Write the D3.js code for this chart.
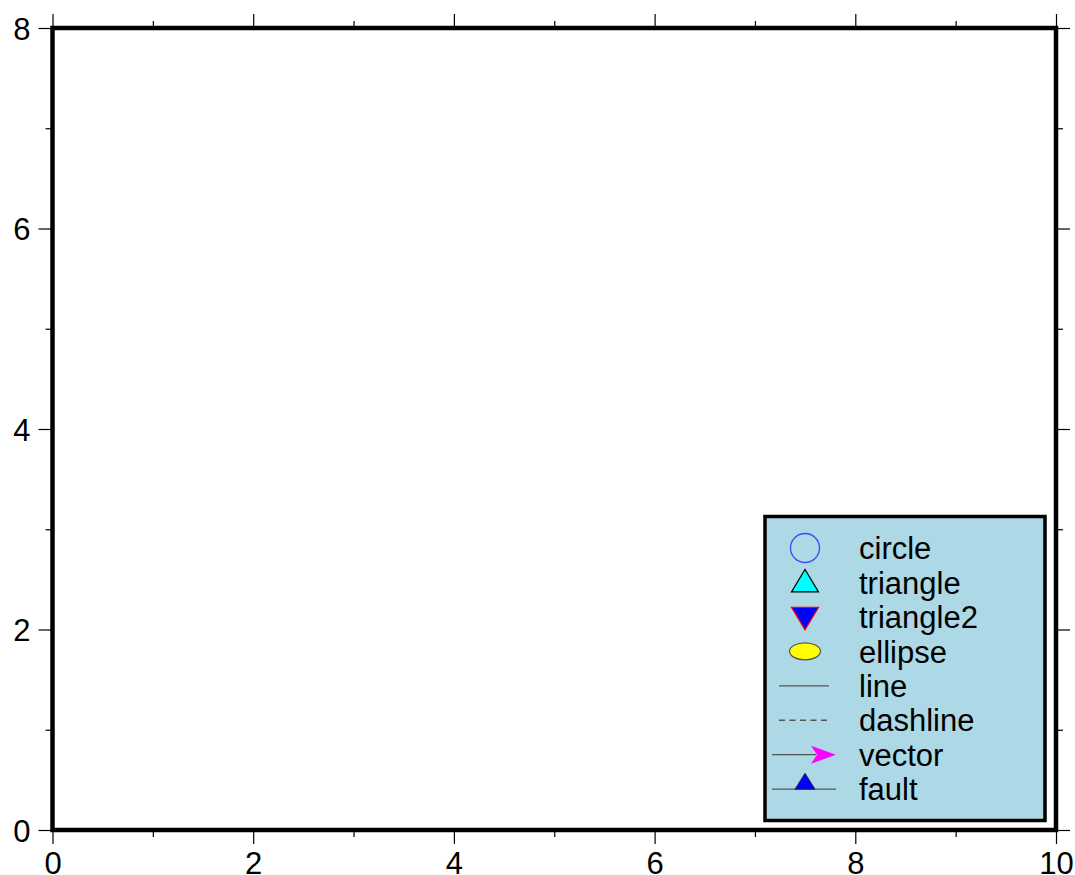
<!DOCTYPE html>
<html><head><meta charset="utf-8">
<script src="https://cdn.jsdelivr.net/npm/d3@7"></script>
<style>body{margin:0;background:#fff}svg{display:block}text{font-family:"Liberation Sans",Arial,Helvetica,sans-serif}</style>
</head><body><svg id="c" width="1075" height="875"></svg>
<script>
const xDomain = [0, 10];
const yDomain = [0, 8];
const xMajorTicks = [0, 2, 4, 6, 8, 10];
const xMinorTicks = [1, 3, 5, 7, 9];
const yMajorTicks = [0, 2, 4, 6, 8];
const yMinorTicks = [1, 3, 5, 7];
const legendLabels = ["circle", "triangle", "triangle2", "ellipse", "line", "dashline", "vector", "fault"];
const legendSymbols = ["circle", "triangle", "invtriangle", "ellipse", "line", "dashline", "vector", "fault"];
const legendFill = ["none", "cyan", "blue", "yellow", "none", "none", "magenta", "blue"];
const legendStroke = ["#3f48ff", "black", "red", "#555", "#555", "#555", "#555", "#555"];

const svg = d3.select("#c");
const L = 52.5, R = 1056, T = 28, B = 830;
const x = d3.scaleLinear().domain(xDomain).range([L, R]);
const y = d3.scaleLinear().domain(yDomain).range([B, T]);
const fs = 31;

function ax(gen, tr, major, minor, showLabels) {
  const g = svg.append("g").attr("transform", tr);
  g.call(gen.tickValues(major).tickSize(14).tickPadding(8).tickFormat(showLabels ? d3.format("d") : ""));
  g.select(".domain").remove();
  g.selectAll("line").attr("stroke", "#000").attr("stroke-width", 1.2);
  g.selectAll("text").attr("font-size", fs).attr("fill", "#000").attr("font-family", '"Liberation Sans",Arial,sans-serif');
  const g2 = svg.append("g").attr("transform", tr);
  g2.call(gen.tickValues(minor).tickSize(7).tickFormat(""));
  g2.select(".domain").remove();
  g2.selectAll("line").attr("stroke", "#000").attr("stroke-width", 1.2);
  return g;
}
const gb = ax(d3.axisBottom(x), `translate(0,${B})`, xMajorTicks, xMinorTicks, true);
gb.selectAll("text").attr("dy", "0.71em").attr("y", 22);
ax(d3.axisTop(x), `translate(0,${T})`, xMajorTicks, xMinorTicks, false);
const gl = ax(d3.axisLeft(y), `translate(${L},0)`, yMajorTicks, yMinorTicks, true);
gl.selectAll("text").attr("x", -22).attr("dy", "0.36em");
ax(d3.axisRight(y), `translate(${R},0)`, yMajorTicks, yMinorTicks, false);

svg.append("rect").attr("x", L).attr("y", T).attr("width", R - L).attr("height", B - T)
  .attr("fill", "none").attr("stroke", "#000").attr("stroke-width", 4.5);

// legend
const lg = svg.append("g");
lg.append("rect").attr("x", 765).attr("y", 516.5).attr("width", 280).attr("height", 304)
  .attr("fill", "#add8e6").attr("stroke", "#000").attr("stroke-width", 3.5);
const row0 = 548, rowH = 34.45, sx = 805, tx = 859;
legendLabels.forEach((lab, i) => {
  const cy = row0 + i * rowH;
  const s = legendSymbols[i], f = legendFill[i], st = legendStroke[i];
  const g = lg.append("g");
  if (s === "circle") {
    g.append("circle").attr("cx", sx).attr("cy", cy).attr("r", 14.5).attr("fill", f).attr("stroke", st).attr("stroke-width", 1.3);
  } else if (s === "triangle") {
    g.append("path").attr("d", `M${sx - 13.5},${cy + 9.5}L${sx + 13.5},${cy + 9.5}L${sx},${cy - 13}Z`).attr("fill", f).attr("stroke", st).attr("stroke-width", 1.2);
  } else if (s === "invtriangle") {
    g.append("path").attr("d", `M${sx - 13.5},${cy - 9.5}L${sx + 13.5},${cy - 9.5}L${sx},${cy + 13}Z`).attr("fill", f).attr("stroke", st).attr("stroke-width", 1.2);
  } else if (s === "ellipse") {
    g.append("ellipse").attr("cx", sx).attr("cy", cy).attr("rx", 15.5).attr("ry", 8.5).attr("fill", f).attr("stroke", st).attr("stroke-width", 1.2);
  } else if (s === "line" || s === "dashline") {
    g.append("line").attr("x1", 779).attr("x2", 829).attr("y1", cy).attr("y2", cy).attr("stroke", st).attr("stroke-width", 1.3)
      .attr("stroke-dasharray", s === "dashline" ? "6,4.5" : null);
  } else if (s === "vector") {
    g.append("line").attr("x1", 772).attr("x2", 816).attr("y1", cy).attr("y2", cy).attr("stroke", st).attr("stroke-width", 1.3);
    g.append("path").attr("d", `M${836},${cy}L${811},${cy - 9}L${817},${cy}L${811},${cy + 9}Z`).attr("fill", f).attr("stroke", "none");
  } else if (s === "fault") {
    g.append("line").attr("x1", 772).attr("x2", 836).attr("y1", cy).attr("y2", cy).attr("stroke", st).attr("stroke-width", 1.3);
    g.append("path").attr("d", `M${sx - 10},${cy}L${sx + 10},${cy}L${sx},${cy - 16}Z`).attr("fill", f).attr("stroke", "#222").attr("stroke-width", 0.8);
  }
  lg.append("text").attr("x", tx).attr("y", cy).attr("dy", "0.36em").attr("font-size", fs).attr("fill", "#000").text(lab);
});
</script></body></html>
